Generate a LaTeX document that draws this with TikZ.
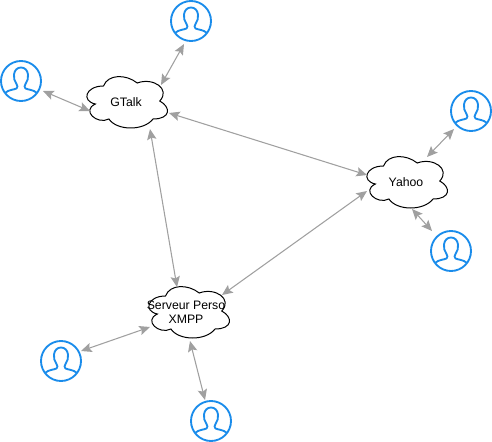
\documentclass[tikz,border=0pt]{standalone}
\usepackage{fontspec}
\setmainfont{Liberation Sans}
\usetikzlibrary{arrows.meta}
\definecolor{userblue}{HTML}{1A8CEB}
\definecolor{linkgray}{HTML}{A0A0A0}
\tikzset{
  cloudbox/.style={rectangle,minimum width=67.5pt,minimum height=45pt,inner sep=0pt,outer sep=0pt,align=center,font=\fontsize{9.2}{10.8}\selectfont,text=black},
  usercircle/.style={circle,draw=userblue,line width=1.4pt,minimum size=30pt,inner sep=0pt,outer sep=0pt},
  userline/.style={draw=userblue,line width=1.4pt,line join=round},
  link/.style={draw=linkgray,line width=0.8pt,{Stealth[length=8pt,width=7pt,inset=1.5pt]}-{Stealth[length=8pt,width=7pt,inset=1.5pt]}}
}
\newcommand{\cloudnode}[6]{%
  \begin{scope}[shift={(#2,#3)},x=67.5pt,y=-45pt,shift={(-0.5,-0.5)}]
    \draw[black,line width=0.75pt,fill=white] (0.25,0.25)
      .. controls (0.05,0.25) and (0,0.5) .. (0.16,0.55)
      .. controls (0,0.66) and (0.18,0.9) .. (0.31,0.8)
      .. controls (0.4,1) and (0.7,1) .. (0.8,0.8)
      .. controls (1,0.8) and (1,0.6) .. (0.875,0.5)
      .. controls (1,0.3) and (0.8,0.1) .. (0.625,0.2)
      .. controls (0.5,0.05) and (0.3,0.05) .. (0.25,0.25) -- cycle;
  \end{scope}
  \node[cloudbox] (#1) at (#4,#5) {#6};}
\newcommand{\usernode}[3]{%
  \node[usercircle] (#1) at (#2,#3) {};
  \begin{scope}[shift={(#2,#3)}]
    \draw[userline] (-16,12)
      .. controls (-12,8.5) and (-8,9) .. (-4.5,7.5)
      .. controls (-3,6.5) and (-3.5,4.5) .. (-4.5,3)
      .. controls (-6.5,0) and (-7.5,-3) .. (-7,-6.5)
      .. controls (-6.5,-11) and (-3.5,-13.5) .. (0,-13.5)
      .. controls (3.5,-13.5) and (6.5,-11) .. (7,-6.5)
      .. controls (7.5,-3) and (6.5,0) .. (4.5,3)
      .. controls (3.5,4.5) and (3,6.5) .. (4.5,7.5)
      .. controls (8,9) and (12,8.5) .. (16,12);
  \end{scope}}
\begin{document}
\begin{tikzpicture}[x=0.75pt,y=-0.75pt]
\useasboundingbox (0,0) rectangle (492,442);
\cloudnode{gtalk}{126}{101}{126}{102}{GTalk}
\cloudnode{yahoo}{406}{181}{406}{182}{Yahoo}
\cloudnode{serveur}{188}{311}{186}{312}{Serveur Perso\\XMPP}
\usernode{utop}{191}{21}
\usernode{uleft}{21}{81}
\usernode{urighttop}{471}{111}
\usernode{urightbot}{451}{251}
\usernode{ubotleft}{61}{361}
\usernode{ubot}{211}{421}
\draw[link] ([shift={(-7,23)}]utop.center) -- ([shift={(35,-17)}]gtalk.center);
\draw[link] ([shift={(22,10)}]uleft.center) -- ([shift={(-36,9)}]gtalk.center);
\draw[link] ([shift={(-17,18)}]urighttop.center) -- ([shift={(21,-25)}]yahoo.center);
\draw[link] ([shift={(-19,-20)}]urightbot.center) -- ([shift={(6,27)}]yahoo.center);
\draw[link] ([shift={(20,-10)}]ubotleft.center) -- ([shift={(-36,15)}]serveur.center);
\draw[link] ([shift={(-6,-21)}]ubot.center) -- ([shift={(4,29)}]serveur.center);
\draw[link] ([shift={(43,11)}]gtalk.center) -- ([shift={(-39,-7)}]yahoo.center);
\draw[link] ([shift={(24,27)}]gtalk.center) -- ([shift={(-9,-25)}]serveur.center);
\draw[link] ([shift={(-39,9)}]yahoo.center) -- ([shift={(36,-17)}]serveur.center);
\end{tikzpicture}
\end{document}
